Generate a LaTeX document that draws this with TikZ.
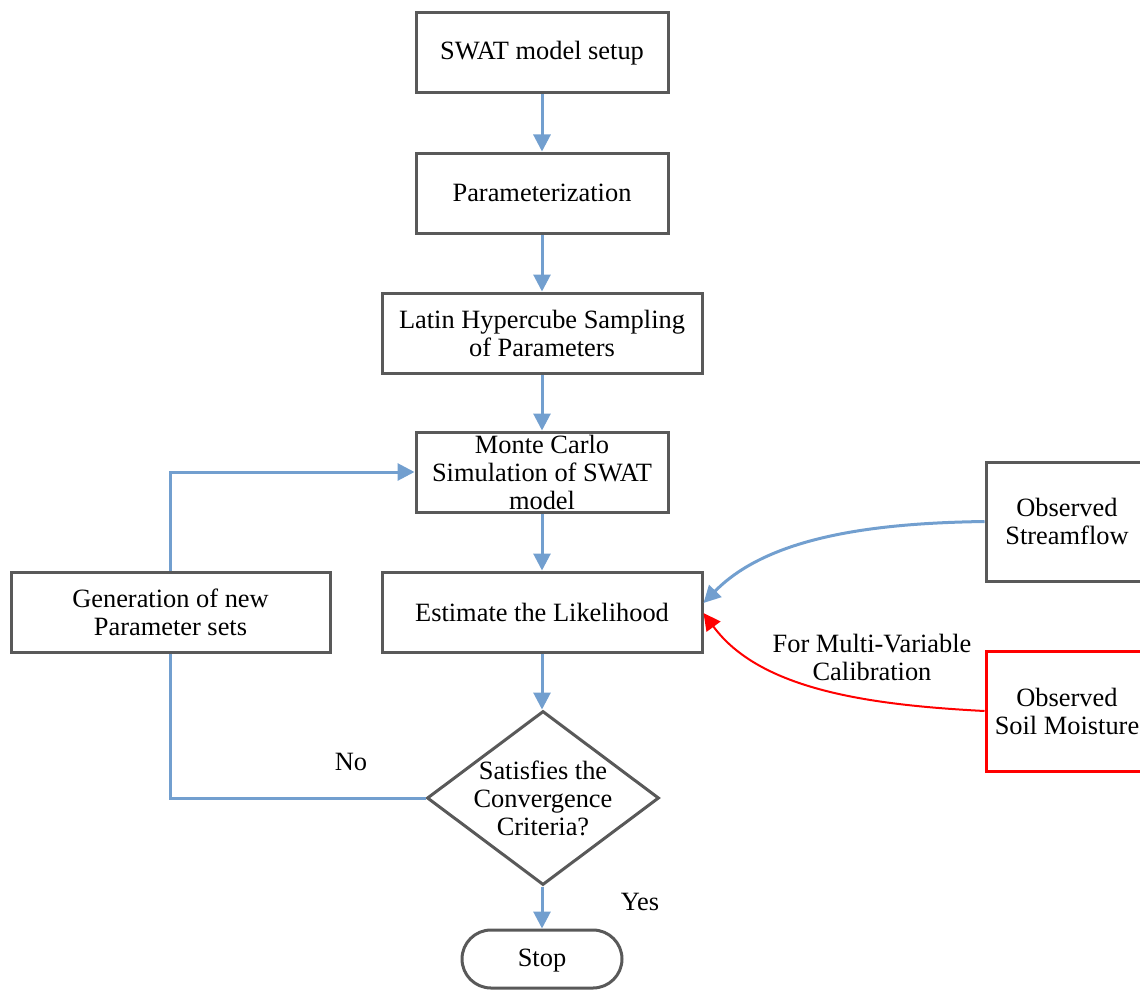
\documentclass[tikz,border=0pt]{standalone}
\usepackage{fontspec}
\setmainfont{Liberation Serif}
\usetikzlibrary{shapes.geometric,arrows.meta}
\definecolor{boxgray}{RGB}{89,89,89}
\definecolor{flowblue}{RGB}{114,159,207}
\begin{document}
\begin{tikzpicture}[x=0.5pt,y=-0.5pt,
  font=\fontsize{13.2}{14}\selectfont,
  box/.style={draw=boxgray,line width=1.5pt,minimum width=#1,minimum height=40pt,align=center,inner sep=2pt},
  obsbox/.style={draw=#1,line width=1.5pt,minimum width=81pt,minimum height=60pt,align=center,inner sep=2pt},
  decision/.style={draw=boxgray,line width=1.5pt,diamond,minimum width=116pt,minimum height=87pt,inner sep=0pt},
  terminal/.style={draw=boxgray,line width=1.5pt,rounded corners=14.5pt,minimum width=80pt,minimum height=29pt,inner sep=2pt},
  flow/.style={draw=flowblue,line width=1.5pt,-{Triangle[length=8.5pt,width=8.5pt]}},
  plainflow/.style={draw=flowblue,line width=1.5pt},
  redflow/.style={draw=red,line width=1pt,-{Triangle[length=8.5pt,width=8.5pt]}},
  lbl/.style={align=center,inner sep=0pt}
]
\useasboundingbox (0,0) rectangle (1140,990);

\node[box=126pt] (setup) at (542,53) {SWAT model setup};
\node[box=126pt] (param) at (542,193) {Parameterization};
\node[box=160pt] (lhs) at (542,333) {Latin Hypercube Sampling\\of Parameters};
\node[box=126pt,inner ysep=-2pt] (mc) at (542,472) {Monte Carlo\\Simulation of SWAT\\model};
\node[box=160pt] (est) at (542,612) {Estimate the Likelihood};
\node[box=159.5pt] (gen) at (170.5,612) {Generation of new\\Parameter sets};
\node[decision] (dec) at (543,798) {};
\node[lbl] (dectext) at (dec) {Satisfies the\\Convergence\\Criteria?};
\node[terminal,text depth=0pt,text height=7pt] (stop) at (542,959) {Stop};
\node[obsbox=boxgray,minimum height=59.5pt] (obs1) at (1067,521.5) {Observed\\Streamflow};
\node[obsbox=red] (obs2) at (1067,711) {Observed\\Soil Moisture};

\draw[flow] (setup) -- (param);
\draw[flow] (param) -- (lhs);
\draw[flow] (lhs) -- (mc);
\draw[flow] (mc) -- (est);
\draw[flow] (est.south) -- (dec.north -| est.south);
\draw[flow] (dec.south -| stop.north) -- (stop.north);
\draw[flow] (gen.north) |- (mc.west);
\draw[plainflow] (dec.west) -| (gen.south);
\draw[flow] (obs1.west) .. controls (880,523) and (770,535) .. ([yshift=4.5pt]est.east);
\draw[redflow] (obs2.west) .. controls (870,705) and (760,690) .. ([yshift=-0.5pt]est.east);

\node[lbl] (no) at (351,762) {No};
\node[lbl] (yes) at (640,902) {Yes};
\node[lbl] (multi) at (872,657) {For Multi-Variable\\Calibration};
\end{tikzpicture}
\end{document}
